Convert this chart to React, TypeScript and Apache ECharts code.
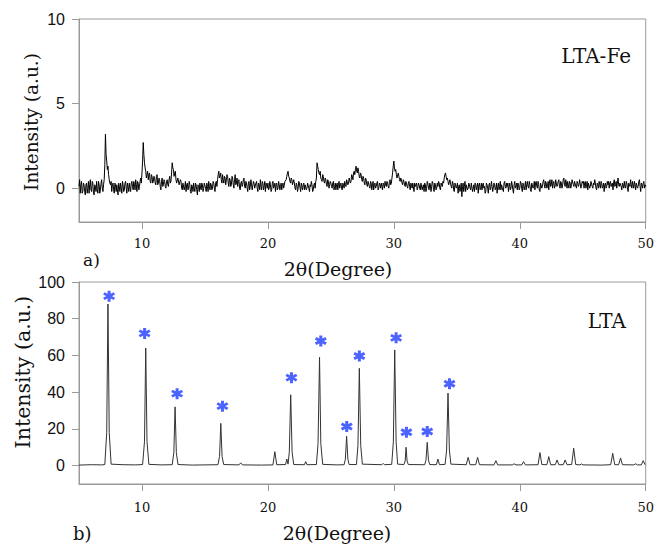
import React, { useEffect, useRef } from 'react';
import * as echarts from 'echarts';

// ---- Data ----
// Panel a) LTA-Fe: intensity read every 0.1 degree from 5.0 to 50.0
const ltaFeStart = 5;
const ltaFeStep = 0.1;
const ltaFeIntensity: number[] = [
  0.1, -0.3, 0.4, -0.2, 0.2, -0.4, 0.3, 0.0, -0.3, 0.5,
  -0.2, 0.3, -0.4, 0.1, 0.4, -0.3, 0.2, -0.1, 0.5, -0.2,
  0.5, 3.2, 1.6, 1.3, 0.5, 0.2, -0.2, 0.3, -0.3, 0.2,
  0.2, -0.4, 0.1, 0.3, -0.3, 0.2, -0.1, 0.4, -0.3, 0.1,
  0.3, -0.2, 0.4, -0.1, 0.2, 0.5, -0.2, 0.3, 0.1, 0.6,
  0.9, 2.7, 1.5, 1.0, 0.8, 0.5, 0.9, 0.3, 0.7, 0.4,
  0.6, 0.2, 0.8, 0.3, 0.5, -0.1, 0.6, 0.2, 0.4, 0.0,
  0.5, 0.1, 0.7, 0.4, 1.5, 1.1, 0.9, 0.5, 0.3, 0.6,
  0.2, 0.4, -0.1, 0.3, 0.1, -0.2, 0.3, 0.0, 0.2, -0.3,
  0.1, 0.3, -0.2, 0.2, -0.4, 0.1, 0.3, -0.1, 0.2, 0.0,
  0.3, -0.2, 0.1, 0.4, -0.1, 0.2, 0.0, 0.3, -0.2, 0.4,
  0.5, 1.0, 0.7, 0.5, 0.8, 0.3, 0.6, 0.2, 0.7, 0.1,
  0.5, 0.2, 0.6, 0.0, 0.8, 0.3, 0.1, 0.5, -0.1, 0.4,
  0.2, 0.6, 0.0, 0.3, -0.2, 0.4, 0.1, 0.2, -0.1, 0.3,
  0.0, 0.4, -0.2, 0.2, 0.5, -0.1, 0.3, 0.1, -0.2, 0.2,
  0.3, 0.0, 0.2, -0.1, 0.4, 0.1, -0.2, 0.3, 0.0, 0.2,
  0.1, -0.1, 0.3, 0.0, 0.4, 0.7, 1.0, 0.6, 0.3, 0.5,
  0.2, 0.3, -0.1, 0.2, 0.0, 0.3, -0.2, 0.1, 0.2, -0.1,
  0.2, 0.0, 0.3, -0.2, 0.1, 0.2, -0.1, 0.3, 0.4, 1.5,
  1.1, 0.8, 0.6, 0.4, 0.7, 0.3, 0.5, 0.1, 0.4, 0.2,
  0.3, 0.0, 0.4, 0.1, -0.1, 0.3, 0.2, 0.0, 0.3, -0.1,
  0.2, 0.4, 0.1, 0.5, 0.3, 0.6, 0.4, 0.7, 0.9, 0.8,
  1.3, 0.9, 1.0, 0.6, 0.8, 0.4, 0.6, 0.2, 0.5, 0.1,
  0.4, 0.0, 0.3, 0.2, -0.1, 0.3, 0.1, 0.4, 0.0, 0.2,
  0.3, -0.1, 0.2, 0.4, 0.1, 0.3, 0.0, 0.5, 0.3, 0.9,
  1.6, 1.0, 0.8, 0.6, 0.7, 0.4, 0.5, 0.2, 0.4, 0.1,
  0.3, 0.0, 0.4, -0.1, 0.2, 0.3, -0.2, 0.1, 0.3, 0.0,
  0.2, -0.1, 0.3, 0.1, -0.2, 0.2, 0.0, 0.3, -0.1, 0.2,
  0.1, 0.3, -0.2, 0.2, 0.0, 0.1, 0.3, -0.1, 0.2, 0.4,
  0.6, 0.9, 0.5, 0.4, 0.2, 0.5, 0.0, 0.3, -0.2, 0.2,
  0.1, -0.3, 0.2, 0.0, -0.5, 0.3, 0.1, -0.2, 0.2, 0.0,
  0.2, -0.1, 0.3, 0.0, -0.2, 0.2, 0.1, -0.3, 0.3, 0.0,
  -0.1, 0.3, 0.1, -0.2, 0.2, -0.3, 0.3, 0.0, 0.1, -0.2,
  0.2, 0.0, -0.3, 0.3, 0.1, -0.1, 0.2, -0.2, 0.4, 0.0,
  0.1, -0.2, 0.3, 0.0, 0.2, -0.3, 0.4, 0.1, -0.1, 0.2,
  0.0, 0.3, -0.2, 0.2, 0.1, -0.1, 0.4, 0.0, 0.2, -0.2,
  0.3, 0.1, -0.1, 0.4, 0.0, 0.2, -0.2, 0.3, 0.1, 0.5,
  0.0, 0.3, 0.1, -0.1, 0.5, 0.2, 0.0, 0.4, 0.1, 0.3,
  0.2, 0.5, 0.0, 0.3, 0.2, 0.6, 0.1, 0.3, 0.4, 0.0,
  0.3, 0.2, 0.5, 0.1, 0.4, 0.0, 0.3, 0.2, 0.5, 0.1,
  0.3, 0.0, 0.4, 0.2, -0.1, 0.3, 0.1, 0.4, 0.0, 0.2,
  0.3, -0.1, 0.2, 0.4, 0.0, 0.3, 0.1, -0.2, 0.3, 0.1,
  0.2, 0.0, 0.4, 0.1, -0.1, 0.5, 0.2, 0.0, 0.6, 0.1,
  0.3, -0.1, 0.2, 0.4, 0.0, 0.3, -0.2, 0.2, 0.5, 0.0,
  0.2, 0.4, -0.1, 0.3, 0.1, 0.5, -0.2, 0.2, 0.3, 0.0,
  0.1,
];
// Same pattern read at the half steps 5.05, 5.15, ... 49.95
const ltaFeIntensityMid: number[] = [
  0.5, 0.2, -0.3, 0.3, -0.2, 0.2, -0.3, 0.4, 0.2, -0.1,
  0.4, -0.3, 0.2, -0.2, -0.1, 0.4, -0.3, 0.3, 0.0, 0.2,
  1.4, 2.0, 1.1, 0.8, 0.3, 0.4, 0.2, -0.1, 0.3, -0.2,
  -0.1, 0.3, -0.2, 0.0, 0.4, -0.2, 0.3, 0.0, 0.3, -0.2,
  0.0, 0.3, 0.1, 0.4, -0.1, 0.2, 0.4, -0.1, 0.4, 0.3,
  1.6, 2.0, 1.2, 0.6, 1.0, 0.8, 0.4, 0.8, 0.3, 0.7,
  0.3, 0.7, 0.2, 0.6, 0.1, 0.4, 0.1, 0.5, 0.1, 0.4,
  0.2, 0.5, 0.3, 0.9, 1.2, 0.7, 1.0, 0.3, 0.6, 0.2,
  0.5, 0.0, 0.3, -0.1, 0.4, 0.2, -0.1, 0.4, -0.2, 0.2,
  -0.2, 0.0, 0.3, -0.1, 0.2, -0.2, 0.0, 0.3, -0.2, 0.3,
  0.0, 0.3, -0.2, 0.1, 0.3, -0.1, 0.4, 0.0, 0.3, 0.1,
  0.8, 0.6, 0.9, 0.3, 0.5, 0.7, 0.2, 0.8, 0.3, 0.6,
  0.1, 0.7, 0.2, 0.5, 0.2, 0.6, 0.4, 0.0, 0.3, 0.1,
  0.5, 0.1, 0.4, 0.0, 0.3, -0.1, 0.5, -0.1, 0.4, 0.0,
  0.3, 0.0, 0.3, -0.1, 0.1, 0.4, -0.1, 0.4, 0.3, 0.0,
  -0.1, 0.4, -0.2, 0.3, 0.0, 0.3, 0.2, -0.1, 0.4, -0.1,
  0.3, 0.2, 0.0, 0.4, 0.5, 0.9, 0.7, 0.4, 0.6, 0.2,
  0.5, 0.0, 0.3, -0.2, 0.4, 0.0, 0.3, -0.1, 0.3, 0.2,
  -0.1, 0.3, 0.0, 0.2, 0.4, -0.2, 0.2, 0.0, 0.6, 1.3,
  0.9, 1.0, 0.5, 0.8, 0.4, 0.6, 0.2, 0.5, 0.0, 0.4,
  0.1, 0.3, -0.1, 0.3, 0.2, -0.1, 0.4, 0.2, 0.0, 0.3,
  0.0, 0.2, 0.5, 0.2, 0.6, 0.3, 0.8, 0.5, 1.0, 1.1,
  1.0, 1.2, 0.7, 0.9, 0.5, 0.7, 0.3, 0.6, 0.2, 0.4,
  0.1, 0.4, -0.1, 0.4, 0.2, 0.0, 0.3, -0.1, 0.3, 0.0,
  0.1, 0.3, 0.0, 0.2, 0.4, 0.1, 0.4, 0.2, 0.6, 1.3,
  1.2, 1.1, 0.6, 0.9, 0.5, 0.6, 0.3, 0.5, 0.2, 0.4,
  0.1, 0.3, 0.1, 0.3, 0.0, 0.1, 0.3, 0.2, -0.1, 0.3,
  0.0, 0.3, -0.1, 0.2, 0.3, -0.2, 0.4, 0.0, 0.3, -0.2,
  0.4, -0.1, 0.3, -0.1, 0.3, 0.4, 0.0, 0.3, 0.1, 0.3,
  0.8, 0.7, 0.6, 0.2, 0.5, 0.1, 0.4, -0.1, 0.3, 0.0,
  0.3, 0.1, -0.2, 0.3, 0.1, -0.2, 0.4, 0.2, -0.1, 0.3,
  0.0, 0.3, -0.2, 0.2, 0.3, -0.1, 0.3, 0.2, -0.1, 0.3,
  0.2, 0.0, -0.3, 0.3, 0.0, 0.2, -0.1, 0.4, -0.2, 0.3,
  -0.1, 0.3, 0.1, -0.1, 0.4, 0.2, -0.1, 0.3, 0.1, 0.3,
  0.3, 0.1, -0.1, 0.4, -0.1, 0.2, 0.0, 0.3, 0.3, -0.1,
  0.4, 0.0, 0.3, -0.1, 0.4, 0.2, 0.1, 0.4, -0.1, 0.3,
  0.0, 0.4, 0.3, 0.1, 0.4, -0.1, 0.3, 0.0, 0.4, 0.2,
  0.4, 0.0, 0.4, 0.3, 0.1, 0.5, 0.3, 0.0, 0.5, 0.1,
  0.4, 0.1, 0.4, 0.0, 0.5, 0.2, 0.5, 0.0, 0.2, 0.4,
  0.0, 0.5, 0.2, 0.4, 0.1, 0.4, 0.1, 0.5, 0.0, 0.4,
  0.4, 0.3, 0.0, 0.4, 0.3, 0.0, 0.4, 0.1, 0.3, 0.5,
  0.0, 0.3, 0.0, 0.2, 0.4, 0.0, 0.3, 0.2, 0.0, 0.4,
  0.4, 0.3, 0.1, 0.3, 0.3, 0.1, 0.4, 0.3, 0.2, 0.3,
  0.1, 0.3, 0.0, 0.1, 0.4, 0.0, 0.3, 0.1, 0.2, 0.4,
  0.0, 0.2, 0.3, 0.0, 0.4, 0.1, 0.3, 0.0, 0.4, 0.2,
];

// Panel b) LTA: [2θ, intensity] read from the pattern
const ltaPattern: [number, number][] = [
  [5.0, 0.3], [6.0, 0.5], [6.8, 0.4],
  [7.05, 0.6], [7.2, 18], [7.3, 88], [7.4, 18], [7.55, 0.8],
  [8.5, 0.5], [9.5, 0.4],
  [10.05, 0.6], [10.2, 13], [10.3, 64], [10.4, 13], [10.55, 0.7],
  [11.5, 0.4],
  [12.4, 0.5], [12.53, 7], [12.63, 32], [12.73, 7], [12.86, 0.6],
  [14.0, 0.3], [15.0, 0.4],
  [16.03, 0.5], [16.16, 5], [16.26, 23], [16.36, 5], [16.49, 0.6],
  [17.7, 0.4], [17.84, 1.5], [17.98, 0.4],
  [19.5, 0.3],
  [20.4, 0.4], [20.55, 7.6], [20.7, 0.5],
  [21.4, 0.6], [21.5, 3.6], [21.6, 0.8],
  [21.7, 7.5], [21.81, 38.6], [21.92, 7.5], [22.05, 0.6],
  [22.9, 0.5], [23.0, 2.2], [23.1, 0.5],
  [23.85, 0.6], [23.98, 12], [24.1, 59], [24.2, 12], [24.35, 0.7],
  [25.5, 0.4],
  [26.05, 0.5], [26.15, 3.5], [26.25, 16], [26.35, 3.5], [26.45, 0.6],
  [27.03, 0.6], [27.15, 11], [27.26, 53], [27.37, 11], [27.5, 0.8],
  [29.05, 0.5], [29.15, 1.2], [29.25, 0.5],
  [29.83, 0.7], [29.96, 13], [30.07, 63], [30.18, 13], [30.3, 0.8],
  [30.8, 0.6], [30.9, 2.5], [30.97, 10], [31.05, 2.5], [31.15, 0.6],
  [32.45, 0.5], [32.55, 3], [32.65, 12.7], [32.75, 3], [32.85, 0.6],
  [33.38, 0.5], [33.5, 3.6], [33.62, 0.5],
  [34.07, 0.7], [34.19, 8.5], [34.3, 39.5], [34.41, 8.5], [34.53, 0.8],
  [35.75, 0.5], [35.9, 4.5], [36.05, 0.5],
  [36.5, 0.5], [36.65, 4.5], [36.8, 0.5],
  [37.95, 0.4], [38.1, 2.7], [38.25, 0.4],
  [39.4, 0.4], [39.55, 1.0], [39.7, 0.4],
  [40.15, 0.4], [40.3, 2.2], [40.45, 0.4],
  [41.45, 0.5], [41.6, 7.1], [41.75, 0.6],
  [42.15, 0.5], [42.3, 4.9], [42.45, 0.5],
  [42.82, 0.5], [42.96, 3.1], [43.1, 0.5],
  [43.45, 0.5], [43.6, 3.1], [43.75, 0.5],
  [44.12, 0.6], [44.28, 9.5], [44.44, 0.6],
  [44.78, 0.4], [44.9, 0.9], [45.02, 0.4],
  [46.5, 0.3],
  [47.22, 0.5], [47.38, 6.7], [47.54, 0.5],
  [47.85, 0.5], [48.0, 4.2], [48.15, 0.5],
  [49.05, 0.4], [49.2, 1.0], [49.35, 0.4],
  [49.65, 0.4], [49.8, 2.7], [49.95, 0.5], [50.0, 0.6],
];

// Blue asterisk markers over the LTA reflections: [2θ, height]
const ltaMarks: [number, number][] = [
  [7.39, 92.3], [10.21, 72], [12.79, 39.2], [16.39, 32.4], [21.87, 47.9], [24.2, 67.9],
  [26.26, 21.3], [27.26, 59.7], [30.18, 69.6], [31.0, 18.2], [32.65, 18.6], [34.42, 44.6],
];

// Tick labels
const xTicks = [10, 20, 30, 40, 50];
const yTicksTop = [0, 5, 10];
const yTicksBottom = [0, 20, 40, 60, 80, 100];

const ASTERISK =
  'path://M7.5 0h5v20h-5zM0.09 7.17L2.59 2.83L19.91 12.83L17.41 17.17ZM17.41 2.83L19.91 7.17L2.59 17.17L0.09 12.83Z';

const FRAME = '#9a9a9a';
const SERIF = '"DejaVu Serif", serif';

function xAxisCfg(gridIndex: number, margin: number) {
  return {
    type: 'value',
    gridIndex,
    min: 5,
    max: 50,
    axisLine: { show: true, onZero: false, lineStyle: { color: FRAME, width: 1 } },
    axisTick: { show: true, length: 7, lineStyle: { color: FRAME }, customValues: xTicks },
    axisLabel: { customValues: xTicks, fontFamily: SERIF, fontSize: 13, color: '#111', margin },
    splitLine: { show: false },
  };
}

function yAxisCfg(gridIndex: number, min: number, max: number, ticks: number[]) {
  return {
    type: 'value',
    gridIndex,
    min,
    max,
    axisLine: { show: true, onZero: false, lineStyle: { color: FRAME, width: 1 } },
    axisTick: { show: true, length: 7, lineStyle: { color: FRAME }, customValues: ticks },
    axisLabel: { customValues: ticks, fontFamily: '"Liberation Sans", Arial, sans-serif', fontSize: 16, color: '#111', margin: 14 },
    splitLine: { show: false },
  };
}

function textEl(text: string, x: number, y: number, size: number, align: string, rotate = 0) {
  return {
    type: 'text',
    x,
    y,
    rotation: rotate,
    style: {
      text,
      fontFamily: SERIF,
      fontSize: size,
      fill: '#111',
      textAlign: align,
      textVerticalAlign: 'middle',
    },
  };
}

export default function App() {
  const ref = useRef<HTMLDivElement>(null);
  useEffect(() => {
    if (!ref.current) return;
    const chart = echarts.init(ref.current, null, { renderer: 'svg' });
    const ltaFeData: number[][] = [];
    ltaFeIntensity.forEach((v, i) => {
      ltaFeData.push([ltaFeStart + i * ltaFeStep, v]);
      if (i < ltaFeIntensityMid.length) {
        ltaFeData.push([ltaFeStart + (i + 0.5) * ltaFeStep, ltaFeIntensityMid[i]]);
      }
    });
    chart.setOption({
      animation: false,
      backgroundColor: '#fff',
      grid: [
        { left: 79, top: 19, width: 570, height: 203, show: true, borderColor: FRAME, borderWidth: 1 },
        { left: 79, top: 282, width: 570, height: 202, show: true, borderColor: FRAME, borderWidth: 1 },
      ],
      xAxis: [xAxisCfg(0, 15), xAxisCfg(1, 17)],
      yAxis: [yAxisCfg(0, -2, 10, yTicksTop), yAxisCfg(1, -10, 100, yTicksBottom)],
      series: [
        {
          type: 'line',
          xAxisIndex: 0,
          yAxisIndex: 0,
          data: ltaFeData,
          symbol: 'none',
          showSymbol: false,
          lineStyle: { color: '#000', width: 1 },
          silent: true,
        },
        {
          type: 'line',
          xAxisIndex: 1,
          yAxisIndex: 1,
          data: ltaPattern,
          symbol: 'none',
          showSymbol: false,
          lineStyle: { color: '#333', width: 1 },
          silent: true,
        },
        {
          type: 'scatter',
          xAxisIndex: 1,
          yAxisIndex: 1,
          data: ltaMarks,
          symbol: ASTERISK,
          symbolSize: [12, 11],
          itemStyle: { color: '#1f3cff' },
          silent: true,
          z: 5,
        },
      ],
      graphic: [
        textEl('Intensity (a.u.)', 31, 122, 18.5, 'center', Math.PI / 2),
        textEl('Intensity (a.u.)', 22.5, 372, 20.5, 'center', Math.PI / 2),
        textEl('2θ(Degree)', 338, 269, 19, 'center'),
        textEl('2θ(Degree)', 337, 533, 19, 'center'),
        textEl('a)', 83, 260, 17, 'left'),
        textEl('b)', 73, 533, 18, 'left'),
        textEl('LTA-Fe', 631, 56, 20, 'right'),
        textEl('LTA', 626, 320.5, 20, 'right'),
      ],
    });
    return () => chart.dispose();
  }, []);
  return (
    <div
      ref={ref}
      style={{ position: 'absolute', left: 0, top: 0, width: 657, height: 544, background: '#fff' }}
    />
  );
}
